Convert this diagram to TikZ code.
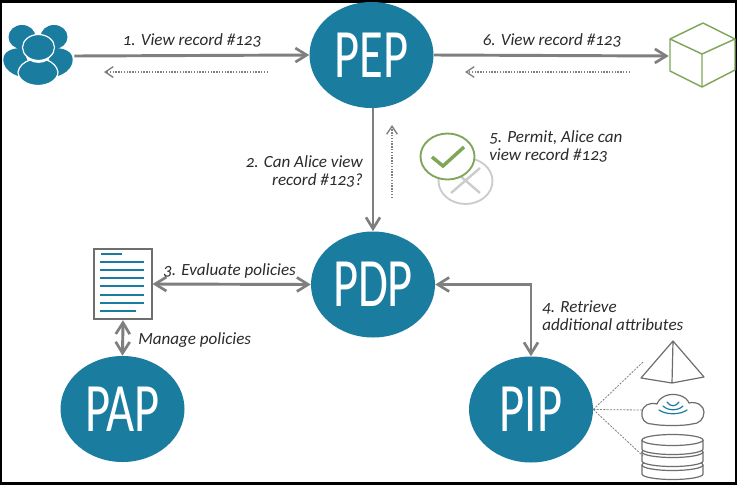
\documentclass[tikz,border=0pt]{standalone}
\usepackage{fontspec}
\setmainfont[Numbers=OldStyle]{Carlito}
\newfontfamily\bigfont[FakeStretch=0.70]{Carlito}
\usetikzlibrary{shapes.geometric}
\usetikzlibrary{arrows.meta}
\usetikzlibrary{calc}
\definecolor{tealpt}{HTML}{1A7DA0}
\definecolor{arrowgray}{HTML}{7F7F7F}
\definecolor{icongreen}{HTML}{7FA65A}
\definecolor{icongray}{HTML}{6E6E6E}
\definecolor{labelink}{HTML}{2B2B2B}

\begin{document}
\begin{tikzpicture}[x=0.75pt, y=-0.75pt]
        % ================= styles =================
        \tikzset{
            point/.style={ellipse, fill=tealpt, minimum width=93pt, minimum height=79.5pt, inner sep=0pt, text=white, font=\bigfont\fontsize{52}{52}\selectfont},
            flow_arrow/.style={line width=2.2pt, arrowgray, -{Straight Barb[length=8.5pt, width=10.5pt, line width=2pt]}},
            both_arrow/.style={line width=2.2pt, arrowgray, {Straight Barb[length=8.5pt, width=10.5pt, line width=2pt]}-{Straight Barb[length=8.5pt, width=10.5pt, line width=2pt]}},
            back_arrow/.style={line width=1.1pt, arrowgray, densely dotted, -{Straight Barb[length=6pt, width=8pt, line width=1pt]}},
            source_link/.style={line width=0.6pt, arrowgray, dash pattern=on 1.5pt off 1pt},
            steplabel/.style={inner sep=0pt, text=labelink, font=\fontsize{12.8}{13.5}\selectfont\itshape},
            iconline/.style={line width=0.9pt, icongray, line join=round},
            greenline/.style={line width=1.1pt, icongreen, line join=round},
            bluewave/.style={line width=0.9pt, tealpt, line cap=round}
        }

        \useasboundingbox (0,0) rectangle (738,486);
        \fill[white] (0,0) rectangle (738,486);
        \draw[line width=1.8pt, black] (1,1.5) rectangle (736,483.5);

        % ================= the four points =================
        \node[point] (pep) at (371.5,55) {PEP};
        \node[point] (pdp) at (373,284.5) {PDP};
        \node[point] (pap) at (122.5,409) {PAP};
        \node[point] (pip) at (531,409.5) {PIP};

        % ================= icon anchors =================
        \node[minimum width=54pt, minimum height=54pt, inner sep=0pt] (users) at (38,56) {};
        \node[minimum width=49.5pt, minimum height=49.5pt, inner sep=0pt] (cube) at (702,56) {};
        \node[draw=icongray, line width=1.3pt, fill=white, minimum width=43pt, minimum height=53pt, inner sep=0pt] (doc) at (123,284) {};

        % ================= users =================
        \foreach \sx in {-1,1} {
            \fill[tealpt] ($(38,0)+(\sx*16,48)$) .. controls ($(38,0)+(\sx*30,48)$) and ($(38,0)+(\sx*37,54)$) .. ($(38,0)+(\sx*34,64)$)
                .. controls ($(38,0)+(\sx*32,70)$) and ($(38,0)+(\sx*26,74)$) .. ($(38,0)+(\sx*20,76)$) -- ($(38,0)+(\sx*8,66)$) -- cycle;
            \fill[tealpt] (38+\sx*16,37) ellipse [x radius=13.5, y radius=12];
        }
        \fill[tealpt, draw=white, line width=0.9pt] (18,72) .. controls (19,66) and (24,62) .. (30,60) .. controls (35,63) and (42,63) .. (47,60) .. controls (52,62) and (57,66) .. (58,72)
            .. controls (58,80) and (48,85.5) .. (38,85.5) .. controls (28,85.5) and (18,80) .. (18,72) -- cycle;
        \fill[tealpt, draw=white, line width=0.9pt] (38.5,47.5) ellipse [x radius=16, y radius=13];

        % ================= cube =================
        \draw[greenline] (703,23) -- (735,39) -- (735,70) -- (702,87) -- (670,71) -- (670,39) -- cycle;
        \draw[greenline] (670,39) -- (702,54) -- (735,39) (702,54) -- (702,87);

        % ================= permit / deny =================
        \draw[line width=1.4pt, black!20] (465.5,181) ellipse [x radius=27, y radius=23];
        \draw[line width=1.8pt, black!20] (451,168) -- (480,193) (480,168) -- (451,193);
        \draw[line width=1.4pt, icongreen, fill=white] (447.5,156.5) ellipse [x radius=27, y radius=23];
        \draw[line width=2.6pt, icongreen] (432,157) -- (443,166) -- (464,147);

        % ================= document lines =================
        \draw[line width=1pt, tealpt] (101,254) -- (122,254);
        \foreach \y in {262,270,278,286,295,303} {
            \draw[line width=1pt, tealpt] (100,\y) -- (144,\y);
        }
        \draw[line width=1pt, tealpt] (100,311) -- (136,311);

        % ================= data sources =================
        \draw[iconline] (673,341) -- (641,378) -- (672,383) -- (704,377) -- cycle (673,341) -- (672,383);
        \draw[iconline] (652,424) .. controls (644,424) and (641,418) .. (642,412) .. controls (643,405) and (650,402) .. (657,404)
            .. controls (660,396) and (670,393) .. (678,395) .. controls (684,396) and (688,400) .. (689,403)
            .. controls (697,401) and (704,406) .. (704,412) .. controls (704,419) and (699,424) .. (692,424)
            .. controls (685,426) and (660,426) .. (652,424) -- cycle;
        \foreach \w/\y in {6/402,10/406,14/410} {
            \draw[bluewave] (673-\w,\y) .. controls (673-\w/2,\y+5) and (673+\w/2,\y+5) .. (673+\w,\y);
        }
        \foreach \y in {465,452,440} {
            \draw[iconline, fill=white] (642,\y) -- (642,\y+9) arc [start angle=180, end angle=360, x radius=30.5, y radius=-5.5] -- (703,\y);
            \draw[iconline, fill=white] (672.5,\y) ellipse [x radius=30.5, y radius=5.5];
        }

        % ================= free ends =================
        \coordinate (ret1a) at (268,72);
        \coordinate (ret1b) at (104,72);
        \coordinate (ret6a) at (630,72);
        \coordinate (ret6b) at (465,72);
        \coordinate (ret5a) at (392,198);
        \coordinate (ret5b) at (392,125);
        \coordinate (pyramidend) at (643,362);
        \coordinate (cloudend) at (642,410);
        \coordinate (stackend) at (643,456);

        % ================= connectors =================
        \draw[flow_arrow] (users.east) -- (pep.west);
        \draw[flow_arrow] (pep.east) -- (cube.west);
        \draw[flow_arrow] (pep.south -| pdp.north) -- (pdp.north);
        \draw[both_arrow] (doc.east) -- (pdp.west);
        \draw[both_arrow] (doc.south) -- (pap.north);
        \draw[both_arrow] (pdp.east) -| (pip.north);
        \draw[back_arrow] (ret1a) -- (ret1b);
        \draw[back_arrow] (ret6a) -- (ret6b);
        \draw[back_arrow] (ret5a) -- (ret5b);
        \draw[source_link] (pip.east) -- (pyramidend);
        \draw[source_link] (pip.east) -- (cloudend);
        \draw[source_link] (pip.east) -- (stackend);

        % ================= labels =================
        \node[steplabel] (lab1) at (192,40) {1. View record \#123};
        \node[steplabel] (lab6) at (552,40) {6. View record \#123};
        \node[steplabel, align=right, anchor=east] (lab2) at (363,171) {2. Can Alice view\\record \#123?};
        \node[steplabel, align=left, anchor=west] (lab5) at (489,146) {5. Permit, Alice can\\view record \#123};
        \node[steplabel, anchor=west] (lab3) at (163,271) {3. Evaluate policies};
        \node[steplabel, anchor=west] (labm) at (138,340) {Manage policies};
        \node[steplabel, align=left, anchor=west] (lab4) at (542,316) {4. Retrieve\\additional attributes};
    \end{tikzpicture}
\end{document}
